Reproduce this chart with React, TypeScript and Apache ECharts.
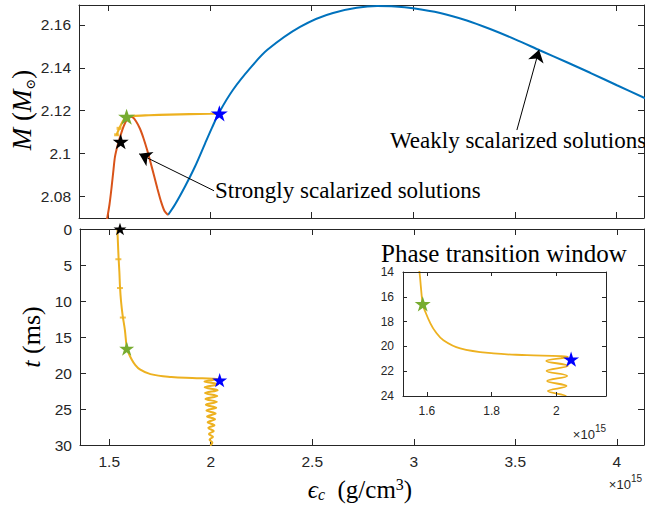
import React, { useEffect, useRef } from 'react';
import * as echarts from 'echarts';

// ---------- data ----------
const epsTicks = [1.5, 2, 2.5, 3, 3.5, 4];
const massTicks = [2.08, 2.1, 2.12, 2.14, 2.16];
const timeTicks = [0, 5, 10, 15, 20, 25, 30];
const insetEpsTicks = [1.6, 1.8, 2];
const insetTimeTicks = [14, 16, 18, 20, 22, 24];

// weakly scalarized branch (M vs eps_c, eps in 1e15 g/cm^3)
const weakEps = [1.7937, 1.8281, 1.8773, 1.9265, 1.9757, 2.0101, 2.0445, 2.1134, 2.1986, 2.2823, 2.4429, 2.6052, 2.8217, 2.91, 2.9988, 3.1316, 3.2629, 3.3775, 3.5005, 3.6235, 3.7548, 3.8694, 4.0008, 4.14];
const weakM = [2.0714, 2.0763, 2.0847, 2.094, 2.1047, 2.1121, 2.1191, 2.1298, 2.14, 2.1484, 2.1591, 2.1656, 2.1688, 2.1686, 2.1678, 2.1656, 2.1621, 2.1581, 2.1533, 2.1481, 2.1426, 2.1377, 2.1319, 2.1258];

// strongly scalarized branch
const strongEps = [1.4936, 1.5059, 1.5167, 1.5256, 1.533, 1.5453, 1.56, 1.5748, 1.5895, 1.6043, 1.619, 1.6363, 1.6559, 1.6731, 1.6904, 1.7076, 1.7248, 1.742, 1.7592, 1.7764, 1.7937];
const strongM = [2.0693, 2.0763, 2.0847, 2.0926, 2.0986, 2.1037, 2.1084, 2.1126, 2.1156, 2.1172, 2.117, 2.1151, 2.1116, 2.1072, 2.1019, 2.096, 2.0898, 2.0835, 2.0777, 2.0733, 2.0714];

// dynamical trajectory in the M - eps plane
const trajTopEps = [1.54, 1.548, 1.558, 1.57, 1.582, 1.59, 1.62, 1.7, 1.8, 1.9, 2.0, 2.046];
const trajTopM = [2.1085, 2.1105, 2.1125, 2.1148, 2.1165, 2.1172, 2.1176, 2.1179, 2.1182, 2.1184, 2.1186, 2.1188];
const trajTopMarkEps = [1.541, 1.553];
const trajTopMarkM = [2.1088, 2.1118];

// trajectory eps_c(t), t in ms
const trajEps = [1.54, 1.543, 1.546, 1.55, 1.553, 1.558, 1.566, 1.577, 1.587, 1.595, 1.61, 1.626, 1.651, 1.703, 1.806, 1.909, 2.013, 2.036,
  1.969, 2.036, 1.97, 2.034, 1.972, 2.032, 1.974, 2.03, 1.976, 2.027, 1.979, 2.024, 1.982, 2.021, 1.985, 2.018, 1.988, 2.015, 1.991, 2.011, 1.994, 2.008, 1.997];
const trajT = [0, 2, 4, 6, 8, 10, 12, 14, 16.6, 17.2, 18.1, 18.8, 19.5, 20.16, 20.57, 20.7, 20.79, 20.85,
  21.17, 21.57, 21.98, 22.38, 22.79, 23.2, 23.6, 24.01, 24.41, 24.82, 25.22, 25.63, 26.03, 26.44, 26.84, 27.25, 27.65, 28.06, 28.46, 28.87, 29.27, 29.68, 30.08];
const trajMarkEps = [1.545, 1.553, 1.567];
const trajMarkT = [4.2, 8.2, 12.3];

// stars
const blackStarTop = [1.561, 2.1056];
const greenStarTop = [1.59, 2.1172];
const blueStarTop = [2.046, 2.1188];
const blackStarBot = [1.553, 0];
const greenStarBot = [1.586, 16.6];
const blueStarBot = [2.044, 21.0];
const greenStarIn = [1.587, 16.57];
const blueStarIn = [2.046, 21.03];

// annotation arrows [from, to] in data coords
const weakArrow = [[3.509, 2.111], [3.618, 2.1484]];
const strongArrow = [[2.02, 2.0827], [1.652, 2.0999]];

// ---------- style ----------
const SERIF = "'Liberation Serif', 'Times New Roman', serif";
const SANS = "'Liberation Sans', Arial, Helvetica, sans-serif";
const AX = '#262626';
const BLUE = '#0072BD';
const RED = '#D95319';
const ORANGE = '#EDB120';
const STAR = 'path://M0,-1L0.2245,-0.309L0.951,-0.309L0.363,0.118L0.588,0.809L0,0.382L-0.588,0.809L-0.363,0.118L-0.951,-0.309L-0.2245,-0.309Z';

const zip = (a: number[], b: number[]) => a.map((v, i) => [v, b[i]]);

function boxAxis(gridIndex: number, pos: string, min: number, max: number, ticks: number[], labels: boolean, extra: any = {}) {
  const small = gridIndex === 2;
  return {
    type: 'value',
    gridIndex,
    position: pos,
    min,
    max,
    z: small ? 6 : 0,
    splitLine: { show: false },
    axisLine: { show: true, onZero: false, lineStyle: { color: AX, width: 1 } },
    axisTick: { show: true, inside: true, length: small ? 4 : 6, customValues: ticks, lineStyle: { color: AX } },
    axisLabel: {
      show: labels,
      customValues: ticks,
      color: AX,
      fontFamily: SANS,
      fontSize: small ? 12 : 15.5,
      margin: small ? 9 : 8,
    },
    ...extra,
  };
}

function starSeries(xi: number, yi: number, pt: number[], color: string, size: number) {
  return {
    type: 'scatter',
    xAxisIndex: xi,
    yAxisIndex: yi,
    data: [pt],
    symbol: STAR,
    symbolSize: size,
    symbolKeepAspect: true,
    itemStyle: { color, opacity: 1 },
    z: 5,
    silent: true,
  };
}

const option: any = {
  animation: false,
  backgroundColor: '#fff',
  grid: [
    { left: 79, top: 5, width: 565, height: 213 },
    { left: 80, top: 229, width: 564, height: 216 },
    { left: 403, top: 272, width: 203, height: 124, show: true, backgroundColor: '#fff', borderWidth: 0, z: 1 },
  ],
  xAxis: [
    boxAxis(0, 'bottom', 1.356, 4.134, epsTicks, false),
    boxAxis(0, 'top', 1.356, 4.134, epsTicks, false),
    boxAxis(1, 'bottom', 1.356, 4.134, epsTicks, true),
    boxAxis(1, 'top', 1.356, 4.134, epsTicks, false),
    boxAxis(2, 'bottom', 1.526, 2.154, insetEpsTicks, true),
    boxAxis(2, 'top', 1.526, 2.154, insetEpsTicks, false),
  ],
  yAxis: [
    boxAxis(0, 'left', 2.07, 2.1693, massTicks, true, {}),
    boxAxis(0, 'right', 2.07, 2.1693, massTicks, false),
    boxAxis(1, 'left', 0, 30, timeTicks, true, { inverse: true }),
    boxAxis(1, 'right', 0, 30, timeTicks, false, { inverse: true }),
    boxAxis(2, 'left', 14, 24, insetTimeTicks, true, { inverse: true }),
    boxAxis(2, 'right', 14, 24, insetTimeTicks, false, { inverse: true }),
  ],
  series: [
    {
      type: 'line', xAxisIndex: 0, yAxisIndex: 0, data: zip(weakEps, weakM), smooth: 0.3,
      showSymbol: false, lineStyle: { color: BLUE, width: 2 }, silent: true,
      markLine: {
        silent: true,
        symbol: ['none', 'arrow'],
        symbolSize: 12,
        label: { show: false },
        lineStyle: { color: '#000', width: 1, type: 'solid' },
        itemStyle: { color: '#000' },
        emphasis: { disabled: true },
        data: [
          [{ coord: weakArrow[0] }, { coord: weakArrow[1] }],
          [{ coord: strongArrow[0] }, { coord: strongArrow[1] }],
        ],
      },
    },
    {
      type: 'line', xAxisIndex: 0, yAxisIndex: 0, data: zip(strongEps, strongM), smooth: 0.3,
      showSymbol: false, lineStyle: { color: RED, width: 2 }, silent: true,
    },
    {
      type: 'line', xAxisIndex: 0, yAxisIndex: 0, data: zip(trajTopEps, trajTopM), smooth: 0.3,
      showSymbol: false, lineStyle: { color: ORANGE, width: 2.2 }, silent: true, z: 3,
    },
    {
      type: 'scatter', xAxisIndex: 0, yAxisIndex: 0, data: zip(trajTopMarkEps, trajTopMarkM),
      symbol: 'rect', symbolSize: [5, 3], itemStyle: { color: ORANGE }, silent: true, z: 3,
    },
    starSeries(0, 0, blackStarTop, '#000', 16),
    starSeries(0, 0, greenStarTop, '#77AC30', 17),
    starSeries(0, 0, blueStarTop, '#0000FF', 17),

    {
      type: 'line', xAxisIndex: 2, yAxisIndex: 2, data: zip(trajEps, trajT), smooth: 0.4,
      showSymbol: false, lineStyle: { color: ORANGE, width: 2 }, silent: true,
    },
    {
      type: 'scatter', xAxisIndex: 2, yAxisIndex: 2, data: zip(trajMarkEps, trajMarkT),
      symbol: 'rect', symbolSize: [6, 2], itemStyle: { color: ORANGE }, silent: true,
    },
    starSeries(2, 2, blackStarBot, '#000', 13),
    starSeries(2, 2, greenStarBot, '#77AC30', 15),
    starSeries(2, 2, blueStarBot, '#0000FF', 15),

    {
      type: 'line', xAxisIndex: 4, yAxisIndex: 4, data: zip(trajEps, trajT), smooth: 0.4,
      showSymbol: false, lineStyle: { color: ORANGE, width: 1.8 }, silent: true, z: 4,
    },
    starSeries(4, 4, greenStarIn, '#77AC30', 16),
    starSeries(4, 4, blueStarIn, '#0000FF', 16),
  ],
  graphic: [
    {
      type: 'text', x: 22, y: 110, rotation: Math.PI / 2,
      style: {
        text: '{i|M} ({i|M}{s|⊙})',
        fontFamily: SERIF, fontSize: 27, lineHeight: 30, fill: '#000',
        align: 'center', verticalAlign: 'middle',
        rich: {
          i: { fontFamily: SERIF, fontStyle: 'italic', fontSize: 27, lineHeight: 30 },
          s: { fontFamily: 'DejaVu Serif', fontSize: 13, verticalAlign: 'bottom', lineHeight: 15 },
        },
      },
    },
    {
      type: 'text', x: 31, y: 337, rotation: Math.PI / 2,
      style: {
        text: '{i|t} (ms)',
        fontFamily: SERIF, fontSize: 26, lineHeight: 30, fill: '#000',
        align: 'center', verticalAlign: 'middle',
        rich: { i: { fontFamily: SERIF, fontStyle: 'italic', fontSize: 26, lineHeight: 30 } },
      },
    },
    {
      type: 'text', x: 360, y: 489,
      style: {
        text: '{i|ϵ}{s|c}  (g/cm{p|3})',
        fontFamily: SERIF, fontSize: 25, lineHeight: 26, fill: '#000',
        align: 'center', verticalAlign: 'middle',
        rich: {
          i: { fontFamily: SERIF, fontStyle: 'italic', fontSize: 25, lineHeight: 26 },
          s: { fontFamily: SERIF, fontStyle: 'italic', fontSize: 16, verticalAlign: 'bottom', lineHeight: 16 },
          p: { fontFamily: SERIF, fontSize: 16, verticalAlign: 'top', lineHeight: 16 },
        },
      },
    },
    {
      type: 'text', x: 642, y: 482,
      style: {
        text: '{a|×10}{b|15}', fill: AX, align: 'right', verticalAlign: 'middle',
        rich: {
          a: { fontFamily: SANS, fontSize: 13, lineHeight: 18, verticalAlign: 'bottom' },
          b: { fontFamily: SANS, fontSize: 10, lineHeight: 11, verticalAlign: 'top' },
        },
      },
    },
    {
      type: 'text', x: 606, y: 432, z: 10,
      style: {
        text: '{a|×10}{b|15}', fill: AX, align: 'right', verticalAlign: 'middle',
        rich: {
          a: { fontFamily: SANS, fontSize: 13, lineHeight: 18, verticalAlign: 'bottom' },
          b: { fontFamily: SANS, fontSize: 10, lineHeight: 11, verticalAlign: 'top' },
        },
      },
    },
    {
      type: 'text', x: 504, y: 253, z: 10,
      style: { text: 'Phase transition window', fontFamily: SERIF, fontSize: 25, fill: '#000', align: 'center', verticalAlign: 'middle' },
    },
    {
      type: 'text', x: 215, y: 190, z: 10,
      style: { text: 'Strongly scalarized solutions', fontFamily: SERIF, fontSize: 23, fill: '#000', align: 'left', verticalAlign: 'middle' },
    },
    {
      type: 'text', x: 390, y: 140, z: 10,
      style: { text: 'Weakly scalarized solutions', fontFamily: SERIF, fontSize: 23, fill: '#000', align: 'left', verticalAlign: 'middle' },
    },
  ],
};

export default function App() {
  const ref = useRef<HTMLDivElement>(null);
  useEffect(() => {
    const chart = echarts.init(ref.current as HTMLDivElement, null, { renderer: 'svg' });
    chart.setOption(option);
    return () => chart.dispose();
  }, []);
  return (
    <div
      ref={ref}
      style={{ position: 'fixed', left: 0, top: 0, width: 645, height: 505, background: '#fff' }}
    />
  );
}
